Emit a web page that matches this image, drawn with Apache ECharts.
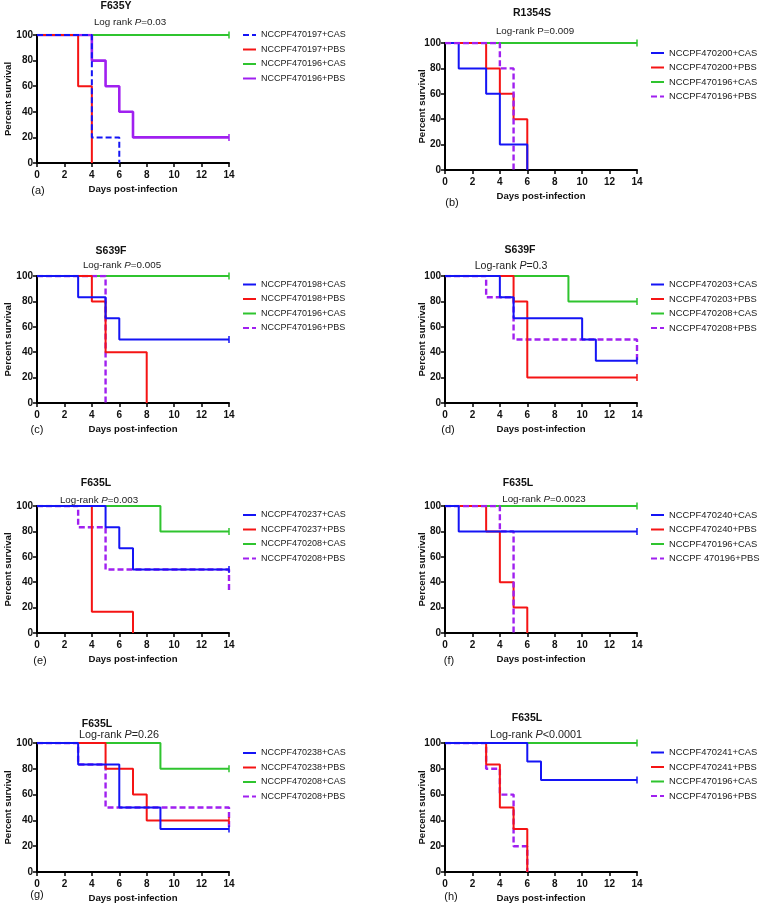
<!DOCTYPE html>
<html><head><meta charset="utf-8">
<script src="https://cdn.jsdelivr.net/npm/echarts@6/dist/echarts.min.js"></script>
<style>html,body{margin:0;padding:0;background:#fff}#c{width:760px;height:905px}</style>
</head><body><div id="c"></div>
<script>
// ---- tick values ----
const xTickStep = 2, xMax = 14;
const yTickStep = 20, yMax = 100;

// ---- Kaplan–Meier steps: [day, percent survival] ----
// (a) F635Y
const a_197CAS = [[0,100],[4,20],[6,0]];
const a_197PBS = [[0,100],[3,60],[4,0]];
const a_196CAS = [[0,100],[14,100]];
const a_196PBS = [[0,100],[4,80],[5,60],[6,40],[7,20],[14,20]];
// (b) R1354S
const b_200CAS = [[0,100],[1,80],[3,60],[4,20],[6,0]];
const b_200PBS = [[0,100],[3,80],[4,60],[5,40],[6,0]];
const b_196CAS = [[0,100],[14,100]];
const b_196PBS = [[0,100],[4,80],[5,0]];
// (c) S639F
const c_198CAS = [[0,100],[3,83.3],[5,66.7],[6,50],[14,50]];
const c_198PBS = [[0,100],[4,80],[5,40],[8,0]];
const c_196CAS = [[0,100],[14,100]];
const c_196PBS = [[0,100],[5,0]];
// (d) S639F
const d_203CAS = [[0,100],[4,83.3],[5,66.7],[10,50],[11,33.3],[14,33.3]];
const d_203PBS = [[0,100],[5,80],[6,20],[14,20]];
const d_208CAS = [[0,100],[9,80],[14,80]];
const d_208PBS = [[0,100],[3,83.3],[5,50],[14,50],[14,33.3]];
// (e) F635L
const e_237CAS = [[0,100],[5,83.3],[6,66.7],[7,50],[14,50]];
const e_237PBS = [[0,100],[4,16.7],[7,0]];
const e_208CAS = [[0,100],[9,80],[14,80]];
const e_208PBS = [[0,100],[3,83.3],[5,50],[14,50],[14,33.3]];
// (f) F635L
const f_240CAS = [[0,100],[1,80],[14,80]];
const f_240PBS = [[0,100],[3,80],[4,40],[5,20],[6,0]];
const f_196CAS = [[0,100],[14,100]];
const f_196PBS = [[0,100],[4,80],[5,0]];
// (g) F635L
const g_238CAS = [[0,100],[3,83.3],[6,50],[9,33.3],[14,33.3]];
const g_238PBS = [[0,100],[5,80],[7,60],[8,40],[14,40]];
const g_208CAS = [[0,100],[9,80],[14,80]];
const g_208PBS = [[0,100],[3,83.3],[5,50],[14,50],[14,33.3]];
// (h) F635L
const h_241CAS = [[0,100],[6,85.7],[7,71.4],[14,71.4]];
const h_241PBS = [[0,100],[3,83.3],[4,50],[5,33.3],[6,0]];
const h_196CAS = [[0,100],[14,100]];
const h_196PBS = [[0,100],[3,80],[4,60],[5,20],[6,0]];

// ---- texts ----
const panelTags = ['(a)','(b)','(c)','(d)','(e)','(f)','(g)','(h)'];
const panelTitles = ['F635Y','R1354S','S639F','S639F','F635L','F635L','F635L','F635L'];
const pTexts = ['Log rank {i|P}=0.03','Log-rank P=0.009','Log-rank {i|P}=0.005','Log-rank {i|P}=0.3',
  'Log-rank {i|P}=0.003','Log-rank {i|P}=0.0023','Log-rank {i|P}=0.26','Log-rank {i|P}<0.0001'];
const xName = 'Days post-infection';
const yName = 'Percent survival';

const BLUE='#1414f5', RED='#f51414', GREEN='#2fc42f', PURPLE='#a020f0';
const FONT = "'Liberation Sans',Arial,sans-serif";

// series definitions per panel: [name, data, color, dashed, width]
const panelSeries = [
  [['NCCPF470196+CAS',a_196CAS,GREEN,false,2],['NCCPF470196+PBS',a_196PBS,PURPLE,false,2.6],['NCCPF470197+PBS',a_197PBS,RED,false,2],['NCCPF470197+CAS',a_197CAS,BLUE,true,2]],
  [['NCCPF470196+CAS',b_196CAS,GREEN,false,2],['NCCPF470200+PBS',b_200PBS,RED,false,2],['NCCPF470200+CAS',b_200CAS,BLUE,false,2],['NCCPF470196+PBS',b_196PBS,PURPLE,true,2.4]],
  [['NCCPF470196+CAS',c_196CAS,GREEN,false,2],['NCCPF470196+PBS',c_196PBS,PURPLE,true,2.4],['NCCPF470198+PBS',c_198PBS,RED,false,2],['NCCPF470198+CAS',c_198CAS,BLUE,false,2]],
  [['NCCPF470208+CAS',d_208CAS,GREEN,false,2],['NCCPF470208+PBS',d_208PBS,PURPLE,true,2.4],['NCCPF470203+PBS',d_203PBS,RED,false,2],['NCCPF470203+CAS',d_203CAS,BLUE,false,2]],
  [['NCCPF470208+CAS',e_208CAS,GREEN,false,2],['NCCPF470208+PBS',e_208PBS,PURPLE,true,2.4],['NCCPF470237+PBS',e_237PBS,RED,false,2],['NCCPF470237+CAS',e_237CAS,BLUE,false,2]],
  [['NCCPF470196+CAS',f_196CAS,GREEN,false,2],['NCCPF470240+PBS',f_240PBS,RED,false,2],['NCCPF 470196+PBS',f_196PBS,PURPLE,true,2.4],['NCCPF470240+CAS',f_240CAS,BLUE,false,2]],
  [['NCCPF470208+CAS',g_208CAS,GREEN,false,2],['NCCPF470208+PBS',g_208PBS,PURPLE,true,2.4],['NCCPF470238+PBS',g_238PBS,RED,false,2],['NCCPF470238+CAS',g_238CAS,BLUE,false,2]],
  [['NCCPF470196+CAS',h_196CAS,GREEN,false,2],['NCCPF470196+PBS',h_196PBS,PURPLE,true,2.4],['NCCPF470241+PBS',h_241PBS,RED,false,2],['NCCPF470241+CAS',h_241CAS,BLUE,false,2]]
];
// legend order per panel
const legendOrder = [
  ['NCCPF470197+CAS','NCCPF470197+PBS','NCCPF470196+CAS','NCCPF470196+PBS'],
  ['NCCPF470200+CAS','NCCPF470200+PBS','NCCPF470196+CAS','NCCPF470196+PBS'],
  ['NCCPF470198+CAS','NCCPF470198+PBS','NCCPF470196+CAS','NCCPF470196+PBS'],
  ['NCCPF470203+CAS','NCCPF470203+PBS','NCCPF470208+CAS','NCCPF470208+PBS'],
  ['NCCPF470237+CAS','NCCPF470237+PBS','NCCPF470208+CAS','NCCPF470208+PBS'],
  ['NCCPF470240+CAS','NCCPF470240+PBS','NCCPF470196+CAS','NCCPF 470196+PBS'],
  ['NCCPF470238+CAS','NCCPF470238+PBS','NCCPF470208+CAS','NCCPF470208+PBS'],
  ['NCCPF470241+CAS','NCCPF470241+PBS','NCCPF470196+CAS','NCCPF470196+PBS']
];

// ---- layout ----
const grids = [
  {left:37,top:35,width:192,height:128},{left:445,top:43,width:192,height:127},
  {left:37,top:276,width:192,height:127},{left:445,top:276,width:192,height:127},
  {left:37,top:506,width:192,height:127},{left:445,top:506,width:192,height:127},
  {left:37,top:743,width:192,height:129},{left:445,top:743,width:192,height:129}
];
const titlePos = [[116,6],[532,13],[111,251],[520,250],[96,483],[518,483],[97,724],[527,718]];
const pPos = [[130,22],[535,31],[122,265],[511,266],[99,500],[544,499],[119,735],[536,735]];
const pSize = [9.8,9.8,9.8,10.6,9.8,9.8,10.8,10.8];
const tagPos = [[38,191],[452,203],[37,430],[448,430],[40,661],[449,661],[37,895],[451,897]];
const legendPos = [[242,30.5],[650,48.5],[242,280],[650,280],[242,510.5],[650,510.5],[242,748.5],[650,748]];
const legendSize = [9,9.4,9,9.4,9,9.4,9,9.4];

const option = {animation:false, backgroundColor:'#fff', grid:[], xAxis:[], yAxis:[], series:[], legend:[], graphic:[]};
const ids = 'abcdefgh';
grids.forEach((g,i)=>{
  option.grid.push(Object.assign({containLabel:false},g));
  const isLeft = i%2===0;
  option.xAxis.push({type:'value',gridIndex:i,min:0,max:xMax,interval:xTickStep,
    name:xName,nameLocation:'middle',nameGap:21,nameMoveOverlap:false,
    nameTextStyle:{fontFamily:FONT,fontWeight:'bold',fontSize:9.6,color:'#111'},
    axisLine:{lineStyle:{color:'#000',width:2}},axisTick:{length:4,lineStyle:{color:'#000',width:1.5}},
    axisLabel:{fontFamily:FONT,fontWeight:'bold',fontSize:10,color:'#111',margin:7.5},splitLine:{show:false}});
  option.yAxis.push({type:'value',gridIndex:i,min:0,max:yMax,interval:yTickStep,
    name:yName,nameLocation:'middle',nameGap:isLeft?24:18,nameMoveOverlap:false,
    nameTextStyle:{fontFamily:FONT,fontWeight:'bold',fontSize:9.6,color:'#111'},
    axisLine:{show:true,lineStyle:{color:'#000',width:2}},axisTick:{show:true,length:4,lineStyle:{color:'#000',width:1.5}},
    axisLabel:{fontFamily:FONT,fontWeight:'bold',fontSize:10,color:'#111',margin:4},splitLine:{show:false}});
  panelSeries[i].forEach(([name,data,color,dashed,width])=>{
    const last = data[data.length-1], prev = data[data.length-2];
    const censor = (last[0]===xMax && prev[0]<xMax) ? [{coord:last}] : [];
    option.series.push({type:'line',name:ids[i]+'|'+name,xAxisIndex:i,yAxisIndex:i,step:'end',
      symbol:'none',showSymbol:false,data:data,color:color,
      lineStyle:{color,width,type:dashed?[6,3]:'solid'},itemStyle:{color},emphasis:{disabled:true},
      markPoint:{symbol:'rect',symbolSize:[1.5,7],silent:true,label:{show:false},itemStyle:{color},data:censor}});
  });
  option.legend.push({orient:'vertical',left:legendPos[i][0],top:legendPos[i][1],padding:0,
    itemWidth:13,itemHeight:11,itemGap:5.5,selectedMode:false,
    itemStyle:{opacity:0},
    data:legendOrder[i].map(n=>ids[i]+'|'+n),
    formatter:n=>n.split('|')[1],
    textStyle:{fontFamily:FONT,fontSize:legendSize[i],color:'#1a1a1a'}});
  option.graphic.push({type:'text',x:titlePos[i][0],y:titlePos[i][1],
    style:{text:panelTitles[i],fontFamily:FONT,fontWeight:'bold',fontSize:10.5,fill:'#111',align:'center',verticalAlign:'middle'}});
  option.graphic.push({type:'text',x:pPos[i][0],y:pPos[i][1],
    style:{text:pTexts[i],fontFamily:FONT,fontSize:pSize[i],fill:'#222',align:'center',verticalAlign:'middle',
      rich:{i:{fontFamily:FONT,fontSize:pSize[i],fontStyle:'italic',fill:'#222'}}}});
  option.graphic.push({type:'text',x:tagPos[i][0],y:tagPos[i][1],
    style:{text:panelTags[i],fontFamily:FONT,fontSize:11,fill:'#111',align:'center',verticalAlign:'middle'}});
});

const chart = echarts.init(document.getElementById('c'),null,{renderer:'canvas'});
chart.setOption(option);
</script></body></html>
